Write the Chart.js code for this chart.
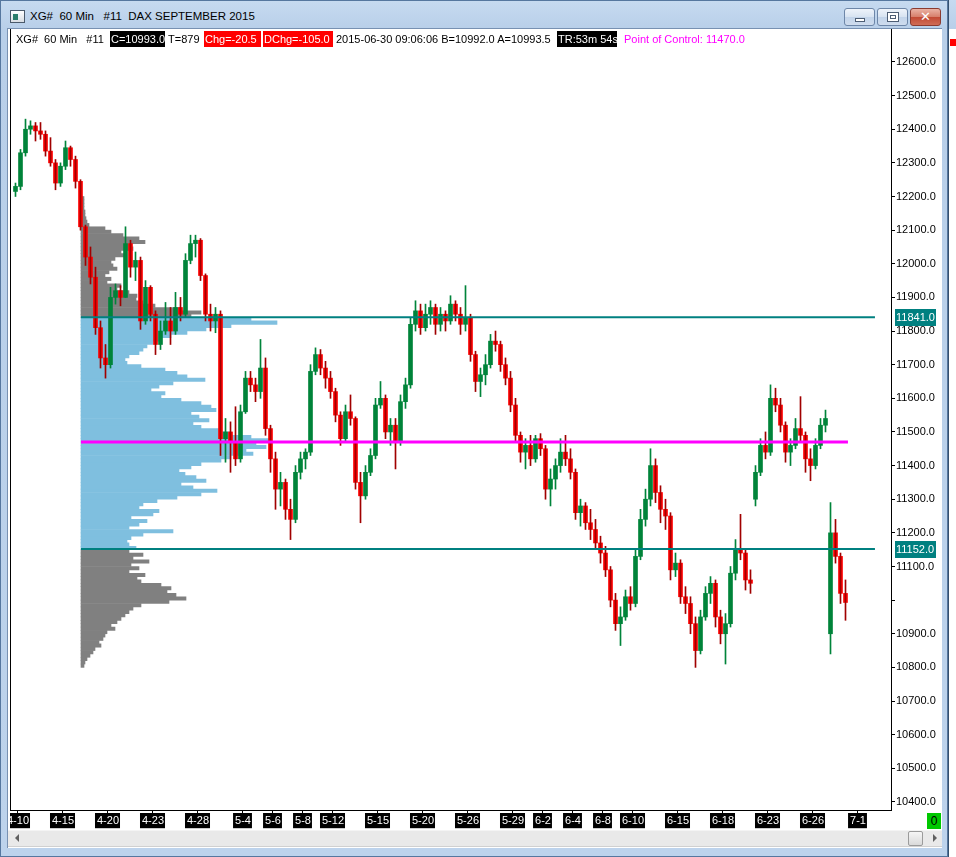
<!DOCTYPE html>
<html>
<head>
<meta charset="utf-8">
<title>XG# 60 Min #11 DAX SEPTEMBER 2015</title>
<script src="https://cdn.jsdelivr.net/npm/chart.js@4/dist/chart.umd.min.js"></script>
<style>
html,body{margin:0;padding:0}
body{width:956px;height:857px;position:relative;overflow:hidden;background:#fff;font-family:"Liberation Sans",Arial,sans-serif;font-size:11px;color:#000}
.a{position:absolute;box-sizing:border-box}
#frame{left:0;top:0;width:948px;height:857px;background:linear-gradient(#c6daf0 0,#b8cfe9 28px,#bdd3ec 100%);border:1px solid #56779f}
#content{left:7px;top:28px;width:935px;height:820px;background:#fff;border-top:1px solid #7891b2;border-left:1px solid #7891b2}
#side{left:948px;top:0;width:8px;height:857px;background:#fff;border-left:1px solid #35506f}
#sidetop{left:949px;top:0;width:7px;height:29px;background:linear-gradient(#c6daf0,#b8cfe9)}
#sidered{left:950px;top:39px;width:6px;height:7px;background:#ff0000}
#icon{left:10px;top:10px;width:15px;height:13px;border:1px solid #4b5a6b;background:linear-gradient(#ffffff,#d8dde3)}
#icon i{position:absolute;left:2px;top:3px;width:5px;height:6px;background:#2a7d6a}
#title{left:30px;top:8px;height:17px;line-height:17px;white-space:pre;font-size:11.5px;color:#000}
.btn{top:8px;height:18px;border:1px solid #6d86a8;border-radius:3px;background:linear-gradient(#eef3fa 0,#d7e3f1 50%,#c2d4ea 51%,#cfdcee 100%)}
#bmin{left:844px;width:31px}
#bmax{left:877px;width:31px}
#bclose{left:910px;width:31px;border-color:#8b3b30;background:linear-gradient(#eab2a4 0,#d67e6a 50%,#c24a34 51%,#cf6c56 100%)}
#bmin i{position:absolute;left:10px;top:9px;width:10px;height:4px;border:1px solid #4d5e75;background:#fff;box-sizing:border-box}
#bmax i{position:absolute;left:9px;top:3px;width:12px;height:10px;border:1px solid #4d5e75;background:#fff;box-sizing:border-box}
#bmax i b{position:absolute;left:2px;top:2px;width:6px;height:4px;border:1px solid #4d5e75;box-sizing:border-box}
#bclose span{position:absolute;left:0;top:0;width:29px;height:16px;line-height:16px;text-align:center;color:#fff;font-weight:bold;font-size:13px;font-family:"DejaVu Sans",sans-serif}
.t{top:31px;height:16px;line-height:16px;white-space:pre;font-size:11px;overflow:hidden}
.blk{background:#000;color:#fff}
.red{background:#ff0000;color:#fff}
#plotleft{left:10px;top:29px;width:1px;height:782px;background:#000}
#chartbox{left:10px;top:29px;width:932px;height:801px}
#scroll{left:8px;top:830px;width:934px;height:17px;background:#e9e9e9;border-top:1px solid #f4f4f4;border-bottom:1px solid #d0d0d0}
#larr{left:15px;top:834px;width:0;height:0;border-top:4px solid transparent;border-bottom:4px solid transparent;border-right:4px solid #606060}
#rarr{left:933px;top:834px;width:0;height:0;border-top:4px solid transparent;border-bottom:4px solid transparent;border-left:4px solid #606060}
#thumb{left:908px;top:831px;width:15px;height:15px;border:1px solid #9b9b9b;border-radius:2px;background:linear-gradient(#f6f6f6,#dadada)}
#zero{left:927px;top:813px;width:14px;height:16px;background:#00c800;color:#000;text-align:center;line-height:16px;font-size:12px}
</style>
</head>
<body>
<div id="frame" class="a"></div>
<div id="side" class="a"></div>
<div id="sidetop" class="a"></div>
<div id="sidered" class="a"></div>
<div id="icon" class="a"><i></i></div>
<div id="title" class="a">XG#  60 Min   #11  DAX SEPTEMBER 2015</div>
<div id="bmin" class="a btn"><i></i></div>
<div id="bmax" class="a btn"><i><b></b></i></div>
<div id="bclose" class="a btn"><span>✕</span></div>
<div id="content" class="a"></div>
<div id="chartbox" class="a"><canvas id="c" width="932" height="801"></canvas></div>
<div id="plotleft" class="a"></div>
<div class="a t" style="left:16px">XG#  60 Min   #11</div>
<div class="a t blk" style="left:110px;width:55px;padding-left:1px">C=10993.0</div>
<div class="a t" style="left:168px">T=879</div>
<div class="a t red" style="left:204px;width:57px;padding-left:1px">Chg=-20.5</div>
<div class="a t red" style="left:263px;width:70px;padding-left:1px">DChg=-105.0</div>
<div class="a t" style="left:336px">2015-06-30 09:06:06 B=10992.0 A=10993.5</div>
<div class="a t blk" style="left:557px;width:60px;padding-left:1px">TR:53m 54s</div>
<div class="a t" style="left:624px;color:#ff00ff">Point of Control: 11470.0</div>
<div id="scroll" class="a"></div>
<div id="larr" class="a"></div>
<div id="rarr" class="a"></div>
<div id="thumb" class="a"></div>
<div id="zero" class="a">0</div>
<script>
// ---- Trading days (index 0 = 4-10) and date tick labels ----
const dateLabels   = ['4-10','4-15','4-20','4-23','4-28','5-4','5-6','5-8','5-12','5-15','5-20','5-26','5-29','6-2','6-4','6-8','6-10','6-15','6-18','6-23','6-26','7-1'];
const dateTickDays = [0,3,6,9,12,15,17,19,21,24,27,30,33,35,37,39,41,44,47,50,53,56];

// ---- Price axis ticks ----
const priceTicks = [10400,10500,10600,10700,10800,10900,11000,11100,11200,11300,11400,11500,11600,11700,11800,11900,12000,12100,12200,12300,12400,12500,12600];
const priceTickLabels = ['10400.0','10500.0','10600.0','10700.0','10800.0','10900.0','','11100.0','11200.0','11300.0','11400.0','11500.0','11600.0','11700.0','11800.0','11900.0','12000.0','12100.0','12200.0','12300.0','12400.0','12500.0','12600.0'];

// ---- Candles: 3 bars per trading day, starting with the last bar of 4-9 (day -1) ----
const barsPerDay = 3, firstDay = -1, firstSlot = 2;
const open = [
12215,12230,12330,12400,12410,12395,12385,12335,12300,12240,
12290,12345,12310,12245,12110,12020,11960,11810,11720,11700,
11900,11920,11900,12060,11990,12010,11830,11930,11850,11760,
11800,11830,11800,11870,11850,12010,12060,12070,11965,11850,
11830,11850,11480,11500,11470,11420,11560,11660,11640,11620,
11690,11510,11420,11330,11350,11270,11240,11380,11420,11440,
11680,11730,11690,11660,11620,11550,11480,11560,11540,11350,
11310,11380,11430,11580,11600,11500,11520,11470,11590,11640,
11820,11860,11810,11850,11870,11820,11850,11830,11880,11850,
11820,11840,11730,11650,11670,11700,11770,11760,11700,11660,
11580,11490,11440,11460,11420,11480,11450,11330,11360,11400,
11440,11420,11380,11260,11280,11230,11210,11170,11140,11090,
11000,10930,10950,11010,10990,11130,11240,11300,11400,11320,
11270,11250,11090,11110,11010,10990,10930,10850,10950,11020,
11050,10950,10900,10930,11080,11150,11140,11060,11300,11380,
11460,11440,11600,11580,11520,11440,11460,11510,11490,11420,
11400,11460,11520,10900,11200,11130,11020];
const high = [
12240,12340,12430,12425,12420,12420,12395,12375,12310,12300,
12365,12350,12320,12250,12115,12050,11990,11830,11760,11930,
11940,11935,12110,12070,12035,12020,11950,11935,11860,11830,
11885,11870,11915,11900,12030,12085,12085,12075,11970,11880,
11870,11860,11540,11530,11575,11580,11680,11680,11660,11775,
11720,11520,11440,11380,11360,11300,11400,11440,11450,11700,
11750,11745,11710,11680,11630,11560,11580,11610,11545,11380,
11400,11450,11600,11650,11610,11540,11540,11610,11660,11840,
11890,11880,11880,11890,11880,11870,11860,11905,11890,11870,
11935,11850,11740,11690,11730,11790,11800,11770,11720,11680,
11600,11500,11480,11490,11490,11495,11460,11390,11420,11480,
11490,11450,11390,11300,11290,11270,11240,11190,11160,11100,
11020,10980,11030,11040,11150,11270,11330,11450,11420,11340,
11300,11260,11140,11120,11040,11010,10950,10970,11040,11070,
11060,10970,10960,11100,11180,11255,11150,11090,11400,11480,
11500,11640,11630,11600,11530,11480,11540,11605,11500,11450,
11480,11540,11565,11290,11240,11140,11060];
const low = [
12200,12220,12320,12385,12365,12370,12320,12290,12220,12230,
12280,12290,12225,12100,11995,11940,11790,11690,11660,11690,
11880,11875,11900,11960,11950,11805,11820,11830,11730,11745,
11790,11760,11790,11830,11840,12000,12020,11950,11830,11800,
11795,11430,11410,11380,11400,11410,11555,11620,11590,11600,
11490,11380,11270,11280,11240,11180,11230,11360,11390,11430,
11670,11670,11630,11600,11530,11460,11470,11520,11330,11230,
11300,11370,11420,11570,11480,11460,11390,11460,11570,11630,
11800,11790,11800,11820,11790,11800,11800,11820,11830,11790,
11800,11710,11620,11605,11640,11690,11740,11680,11640,11560,
11470,11410,11390,11400,11410,11430,11300,11280,11330,11380,
11400,11360,11240,11220,11210,11180,11150,11110,11070,10980,
10910,10865,10940,10970,10980,11120,11220,11280,11290,11230,
11210,11060,11070,10990,10960,10900,10800,10840,10940,10990,
10920,10870,10810,10920,11060,11120,11030,11020,11280,11370,
11420,11430,11560,11500,11410,11400,11450,11470,11380,11355,
11390,11450,11500,10840,11110,10990,10940];
const close = [
12230,12330,12400,12410,12395,12385,12335,12300,12240,12290,
12345,12310,12245,12110,12020,11960,11810,11720,11700,11900,
11920,11900,12060,11990,12010,11830,11930,11850,11760,11800,
11830,11800,11870,11850,12010,12060,12070,11965,11850,11830,
11850,11480,11500,11470,11420,11560,11660,11640,11620,11690,
11510,11420,11330,11350,11270,11240,11380,11420,11440,11680,
11730,11690,11660,11620,11550,11480,11560,11540,11350,11310,
11380,11430,11580,11600,11500,11520,11470,11590,11640,11820,
11860,11810,11850,11870,11820,11850,11830,11880,11850,11820,
11840,11730,11650,11670,11700,11770,11760,11700,11660,11580,
11490,11440,11460,11420,11480,11450,11330,11360,11400,11440,
11420,11380,11260,11280,11230,11210,11170,11140,11090,11000,
10930,10950,11010,10990,11130,11240,11300,11400,11320,11270,
11250,11090,11110,11010,10990,10930,10850,10950,11020,11050,
10950,10900,10930,11080,11150,11140,11060,11050,11380,11460,
11440,11600,11580,11520,11440,11460,11510,11490,11420,11400,
11460,11520,11540,11200,11130,11020,10993];

// ---- Volume profile (10-point price bins, lower bound) ----
const profilePrices = [
10800,10810,10820,10830,10840,10850,10860,10870,10880,10890,
10900,10910,10920,10930,10940,10950,10960,10970,10980,10990,
11000,11010,11020,11030,11040,11050,11060,11070,11080,11090,
11100,11110,11120,11130,11140,11150,11160,11170,11180,11190,
11200,11210,11220,11230,11240,11250,11260,11270,11280,11290,
11300,11310,11320,11330,11340,11350,11360,11370,11380,11390,
11400,11410,11420,11430,11440,11450,11460,11470,11480,11490,
11500,11510,11520,11530,11540,11550,11560,11570,11580,11590,
11600,11610,11620,11630,11640,11650,11660,11670,11680,11690,
11700,11710,11720,11730,11740,11750,11760,11770,11780,11790,
11800,11810,11820,11830,11840,11850,11860,11870,11880,11890,
11900,11910,11920,11930,11940,11950,11960,11970,11980,11990,
12000,12010,12020,12030,12040,12050,12060,12070,12080,12090,
12100,12110,12120,12130,12140,12150,12160,12170,12180,12190];
const profileVolume = [
3,4,6,9,12,14,20,18,22,24,
26,34,30,36,40,44,48,52,60,88,
105,95,86,90,80,60,56,64,48,58,
50,68,52,62,48,55,48,46,50,62,
92,48,58,66,50,72,78,58,62,76,
96,120,136,112,100,125,115,104,98,110,
120,140,150,172,165,185,175,190,170,150,
140,120,112,128,118,110,135,130,120,100,
80,84,70,78,92,124,106,96,84,60,
46,44,48,58,62,66,72,80,90,106,
125,150,196,170,110,120,100,74,62,55,
56,48,36,40,26,30,24,28,36,32,
30,34,44,40,52,48,64,58,42,30,
24,8,6,5,4,4,3,3,3,3];
const profileBin = 10;

// ---- Levels ----
const valueAreaHigh = 11841.0, valueAreaLow = 11152.0, pointOfControl = 11470.0;
const levelTags = [valueAreaHigh, valueAreaLow];
const profileStart = 4.2;   // trading-day index where the profile is anchored (4-16)
const levelEnd = 57.13;     // value-area lines extend past the last bar
const pocEnd = 55.33;       // point-of-control line ends at the last bar

// ---- Build datasets ----
const UP = '#00843a', DOWN = '#ff0000', DOWN_WICK = '#a00000';
const times = open.map((_, i) => firstDay + (i + firstSlot + 0.5) / barsPerDay);
const bodyColors = open.map((o, i) => close[i] >= o ? UP : DOWN);
const wickColors = open.map((o, i) => close[i] >= o ? UP : DOWN_WICK);

const profileColors = profilePrices.map(p => {
  const c = p + profileBin / 2;
  return (c > valueAreaLow && c < valueAreaHigh) ? '#7fbfdf' : '#808080';
});

const levelTagPlugin = {
  id: 'levelTags',
  afterDraw(chart) {
    const { ctx, chartArea } = chart;
    const y = chart.scales.y;
    ctx.save();
    ctx.font = '11px "Liberation Sans", Arial, sans-serif';
    ctx.textBaseline = 'middle';
    ctx.textAlign = 'left';
    levelTags.forEach(v => {
      const py = Math.round(y.getPixelForValue(v));
      ctx.fillStyle = '#008080';
      ctx.fillRect(chartArea.right + 4, py - 8, 41, 17);
      ctx.fillStyle = '#ffffff';
      ctx.fillText(v.toFixed(1), chartArea.right + 5, py + 1);
    });
    ctx.restore();
  }
};

Chart.defaults.font.family = '"Liberation Sans", Arial, sans-serif';
Chart.defaults.font.size = 11;
Chart.defaults.color = '#000';

new Chart(document.getElementById('c'), {
  type: 'bar',
  data: {
    datasets: [
      {
        type: 'line', order: 0, xAxisID: 'x', yAxisID: 'y',
        data: [{x: profileStart, y: valueAreaHigh}, {x: levelEnd, y: valueAreaHigh}],
        borderColor: '#008080', borderWidth: 2, pointRadius: 0, fill: false
      },
      {
        type: 'line', order: 0, xAxisID: 'x', yAxisID: 'y',
        data: [{x: profileStart, y: valueAreaLow}, {x: levelEnd, y: valueAreaLow}],
        borderColor: '#008080', borderWidth: 2, pointRadius: 0, fill: false
      },
      {
        type: 'line', order: 0, xAxisID: 'x', yAxisID: 'y',
        data: [{x: profileStart, y: pointOfControl}, {x: pocEnd, y: pointOfControl}],
        borderColor: '#ff00ff', borderWidth: 3, pointRadius: 0, fill: false
      },
      {
        type: 'bar', order: 1, xAxisID: 'x', yAxisID: 'y', grouped: false,
        data: times.map((t, i) => ({x: t, y: [low[i], high[i]]})),
        backgroundColor: wickColors, barThickness: 1, borderWidth: 0
      },
      {
        type: 'bar', order: 2, xAxisID: 'x', yAxisID: 'y', grouped: false,
        data: times.map((t, i) => ({x: t, y: [open[i], close[i]]})),
        backgroundColor: bodyColors, barThickness: 4, minBarLength: 1, borderWidth: 0
      },
      {
        type: 'bar', order: 3, indexAxis: 'y', xAxisID: 'xv', yAxisID: 'yp', grouped: false,
        data: profilePrices.map((p, i) => ({x: profileVolume[i], y: p + profileBin / 2})),
        backgroundColor: profileColors, categoryPercentage: 1, barPercentage: 1, borderWidth: 0
      }
    ]
  },
  options: {
    responsive: false,
    animation: false,
    devicePixelRatio: 1,
    events: [],
    layout: { padding: 0 },
    plugins: { legend: { display: false }, tooltip: { enabled: false }, title: { display: false } },
    scales: {
      x: {
        type: 'linear', position: 'bottom', offset: false,
        min: -0.5333, max: 58.2,
        grid: { display: true, drawOnChartArea: false, drawTicks: true, tickLength: 4, color: '#000', offset: false },
        border: { display: true, color: '#000', width: 1 },
        ticks: {
          autoSkip: false, maxRotation: 0, minRotation: 0, padding: 0,
          color: '#fff', font: { size: 11 },
          showLabelBackdrop: true, backdropColor: '#000', backdropPadding: { top: 1, bottom: 1, left: 2, right: 1 },
          callback: (v, i) => dateLabels[i]
        },
        afterBuildTicks: s => { s.ticks = dateTickDays.map(d => ({ value: d })); },
        afterFit: s => { s.height = 20; s.paddingLeft = 0; s.paddingRight = 0; }
      },
      y: {
        type: 'linear', position: 'right', offset: false,
        min: 10376, max: 12698,
        grid: { display: true, drawOnChartArea: false, drawTicks: true, tickLength: 4, color: '#000' },
        border: { display: true, color: '#000', width: 1 },
        ticks: {
          autoSkip: false, padding: 1, color: '#000', font: { size: 11 },
          callback: (v, i) => priceTickLabels[i]
        },
        afterBuildTicks: s => { s.ticks = priceTicks.map(v => ({ value: v })); },
        afterFit: s => { s.width = 51; s.paddingTop = 0; s.paddingBottom = 0; }
      },
      xv: {
        type: 'linear', display: false, offset: false,
        min: -71, max: 810
      },
      yp: {
        type: 'linear', display: false, offset: false,
        min: 10376, max: 12698
      }
    }
  },
  plugins: [levelTagPlugin]
});
</script>
</body>
</html>
